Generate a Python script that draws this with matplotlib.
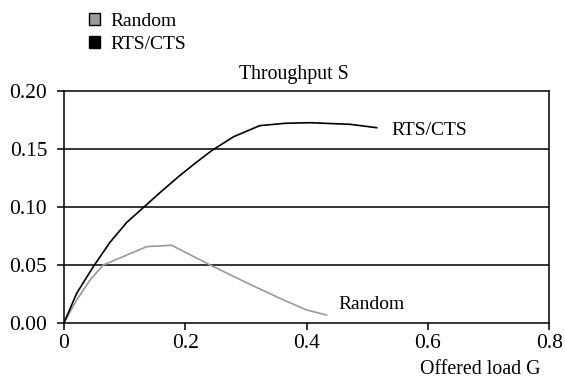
import matplotlib.pyplot as plt
from matplotlib.patches import Patch

plt.rcParams['font.family'] = ['Liberation Serif', 'DejaVu Serif']

# offered load G and throughput S
g_random = [0.0, 0.0212, 0.0432, 0.065, 0.1366, 0.1778, 0.241, 0.307, 0.362, 0.400, 0.433]
s_random = [0.0, 0.020, 0.0373, 0.0502, 0.066, 0.0672, 0.0502, 0.0335, 0.0201, 0.0115, 0.0071]

g_rts = [0.0, 0.0212, 0.0486, 0.0761, 0.1036, 0.134, 0.16, 0.19, 0.215, 0.2437, 0.28,
         0.323, 0.365, 0.406, 0.472, 0.5155]
s_rts = [0.0, 0.0258, 0.0488, 0.0697, 0.0868, 0.101, 0.1132, 0.1267, 0.1372, 0.1487, 0.1607,
         0.1702, 0.1722, 0.1727, 0.1713, 0.1684]

x_ticks = [0, 0.2, 0.4, 0.6, 0.8]
x_labels = ['0', '0.2', '0.4', '0.6', '0.8']
y_ticks = [0.0, 0.05, 0.10, 0.15, 0.20]

fig = plt.figure(figsize=(5.65, 3.78), dpi=100)
ax = fig.add_axes([63.8 / 565, 1 - 323.3 / 378, 485.5 / 565, 232.3 / 378])

ax.plot(g_random, s_random, color='#9a9a9a', lw=1.2)
ax.plot(g_rts, s_rts, color='black', lw=1.2)

for y in y_ticks[1:-1]:
    ax.axhline(y, color='black', lw=1.1, zorder=0)

ax.set_xlim(0, 0.8)
ax.set_ylim(0, 0.2)
ax.set_xticks(x_ticks)
ax.set_xticklabels(x_labels)
ax.set_yticks(y_ticks)
ax.set_yticklabels(['%.2f' % v for v in y_ticks])
ax.tick_params(labelsize=15.5, length=5, width=1.1, color='black')
ax.tick_params(axis='y', pad=7)
ax.tick_params(axis='x', pad=3)
for s in ax.spines.values():
    s.set_linewidth(1.1)

ax.text(0.540, 0.1664, 'RTS/CTS', fontsize=14, va='center')
ax.text(0.452, 0.0158, 'Random', fontsize=14, va='center')
ax.text(0.4748, 1.069, 'Throughput S', fontsize=14.3, ha='center', va='center',
        transform=ax.transAxes)
fig.text(541 / 565, 1 - 370 / 378, 'Offered load G', fontsize=14.3, ha='right', va='center')

handles = [Patch(facecolor='#9a9a9a', edgecolor='black', label='Random'),
           Patch(facecolor='black', edgecolor='black', label='RTS/CTS')]
fig.legend(handles=handles, loc='upper left', bbox_to_anchor=(89 / 565, 1 - 13 / 378),
           frameon=False, fontsize=14, handlelength=0.57, handleheight=0.57,
           handletextpad=0.55, labelspacing=0.29, borderpad=0.0, borderaxespad=0.0)

fig.savefig('out.png', dpi=100)
